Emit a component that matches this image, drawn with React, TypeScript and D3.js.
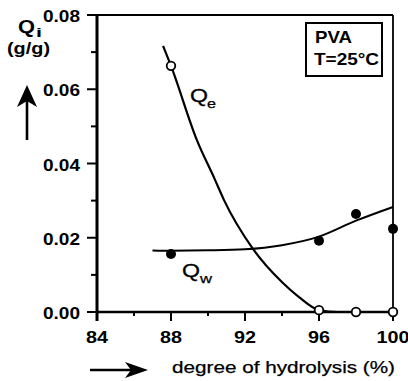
import React from "react";
import * as d3 from "d3";

// ---- data ----
const xTicks = [84, 88, 92, 96, 100];
const xTickLabels = ["84", "88", "92", "96", "100"];
const xMinorTicks = [86, 90, 94, 98];
const yTicks = [0, 0.02, 0.04, 0.06, 0.08];
const yTickLabels = ["0.00", "0.02", "0.04", "0.06", "0.08"];
const yMinorTicks = [0.01, 0.03, 0.05, 0.07];

// measured points
const qeX = [88, 96, 98, 100];
const qeY = [0.0663, 0.0005, 0.0, 0.0];
const qwX = [88, 96, 98, 100];
const qwY = [0.0156, 0.0192, 0.0264, 0.0224];

// fitted curves
const qeFitX = [87.57, 88, 89.4, 90.38, 90.86, 92.43, 94.05, 94.92, 96, 97, 98, 100];
const qeFitY = [0.0717, 0.0663, 0.0463, 0.0356, 0.0302, 0.017, 0.0078, 0.004, 0.0005, 0.0, 0.0, 0.0];
const qwFitX = [87.0, 88, 90, 92, 94, 96, 98, 100];
const qwFitY = [0.0166, 0.0165, 0.0166, 0.0169, 0.018, 0.0203, 0.0246, 0.0283];

const W = 408;
const H = 381;
const FONT = "Liberation Sans, Arial, Helvetica, sans-serif";

function SText(props: {
  x: number;
  y: number;
  len: number;
  size: number;
  anchor?: "start" | "middle" | "end";
  bold?: boolean;
  heavy?: number;
  children: React.ReactNode;
}) {
  const { x, y, len, size, anchor = "start", bold = false, heavy = 0, children } = props;
  const x0 = anchor === "start" ? x : anchor === "middle" ? x - len / 2 : x - len;
  return (
    <text
      x={x0}
      y={y}
      textLength={len}
      lengthAdjust="spacingAndGlyphs"
      fontSize={size}
      fontWeight={bold ? "bold" : "normal"}
      fontFamily={FONT}
      fill="#000"
      stroke={heavy > 0 ? "#000" : "none"}
      strokeWidth={heavy}
    >
      {children}
    </text>
  );
}

export default function App() {
  const x = d3.scaleLinear().domain([84, 100]).range([97, 393]);
  const y = d3.scaleLinear().domain([0, 0.08]).range([312, 15]);

  const line = d3
    .line<[number, number]>()
    .x((d) => x(d[0]))
    .y((d) => y(d[1]))
    .curve(d3.curveMonotoneX);

  const qeFit = line(qeFitX.map((v, i) => [v, qeFitY[i]] as [number, number])) || "";
  const qwFit = line(qwFitX.map((v, i) => [v, qwFitY[i]] as [number, number])) || "";

  const x0 = x(84);
  const x1 = x(100);
  const y0 = y(0);
  const y1 = y(0.08);

  return (
    <div style={{ position: "absolute", left: 0, top: 0 }}>
      <svg width={W} height={H} style={{ display: "block", background: "#fff" }}>
        {/* frame */}
        <line x1={x0 - 10} x2={x1} y1={y1} y2={y1} stroke="#000" strokeWidth={2} />
        <line x1={x1} x2={x1} y1={y1} y2={y0} stroke="#000" strokeWidth={1.8} />
        <line x1={x0} x2={x1} y1={y0} y2={y0} stroke="#000" strokeWidth={2.4} />
        <line x1={x0} x2={x0} y1={y1} y2={y0 + 9} stroke="#000" strokeWidth={3} />

        {/* y ticks */}
        {yTicks.map((t) => (
          <line key={"yt" + t} x1={x0 - 10} x2={x0} y1={y(t)} y2={y(t)} stroke="#000" strokeWidth={2} />
        ))}
        {yMinorTicks.map((t) => (
          <line key={"ym" + t} x1={x0 - 6} x2={x0} y1={y(t)} y2={y(t)} stroke="#000" strokeWidth={2} />
        ))}
        {yTicks.map((t, i) => (
          <SText key={"yl" + t} x={80} y={y(t) + 7} len={37} size={16} anchor="end" bold>
            {yTickLabels[i]}
          </SText>
        ))}

        {/* x ticks */}
        {xTicks.map((t) => (
          <line key={"xt" + t} x1={x(t)} x2={x(t)} y1={y0} y2={y0 + 9} stroke="#000" strokeWidth={2} />
        ))}
        {xMinorTicks.map((t) => (
          <line key={"xm" + t} x1={x(t)} x2={x(t)} y1={y0 - 1} y2={y0 + 4} stroke="#000" strokeWidth={2} />
        ))}
        {xTicks.map((t, i) => (
          <SText key={"xl" + t} x={x(t)} y={343} len={xTickLabels[i].length * 11} size={16} anchor="middle" bold>
            {xTickLabels[i]}
          </SText>
        ))}

        {/* fitted curves */}
        <path d={qwFit} fill="none" stroke="#000" strokeWidth={2} />
        <path d={qeFit} fill="none" stroke="#000" strokeWidth={2.2} />

        {/* markers */}
        {qwX.map((v, i) => (
          <circle key={"qw" + i} cx={x(v)} cy={y(qwY[i])} r={5} fill="#000" />
        ))}
        {qeX.map((v, i) => (
          <circle key={"qe" + i} cx={x(v)} cy={y(qeY[i])} r={4.3} fill="#fff" stroke="#000" strokeWidth={1.8} />
        ))}

        {/* series labels */}
        <SText x={190} y={102} len={18} size={19} heavy={0.3}>Q</SText>
        <SText x={207} y={108} len={9} size={13} heavy={0.25}>e</SText>
        <SText x={182} y={277} len={18} size={19} heavy={0.3}>Q</SText>
        <SText x={200} y={283} len={12} size={13} heavy={0.25}>w</SText>

        {/* legend box */}
        <rect x={306} y={23} width={76} height={53} fill="#fff" stroke="#000" strokeWidth={2} />
        <SText x={315} y={43} len={37} size={17} bold>PVA</SText>
        <SText x={314} y={65} len={65} size={17} bold>T=25°C</SText>

        {/* y axis title */}
        <SText x={18} y={33} len={17} size={18} bold>Q</SText>
        <SText x={36} y={37} len={6} size={12} bold>i</SText>
        <SText x={7} y={54} len={43} size={16} bold>(g/g)</SText>
        <line x1={27} x2={27} y1={140} y2={100} stroke="#000" strokeWidth={2.6} />
        <path d="M27,85 L37,107 L27,101 L17,107 Z" fill="#000" />

        {/* x axis title */}
        <line x1={90} x2={135} y1={370} y2={370} stroke="#000" strokeWidth={2.6} />
        <path d="M148,370 L125,362 L131,370 L125,378 Z" fill="#000" />
        <SText x={172} y={373} len={223} size={17} heavy={0.25}>degree of hydrolysis (%)</SText>
      </svg>
    </div>
  );
}
